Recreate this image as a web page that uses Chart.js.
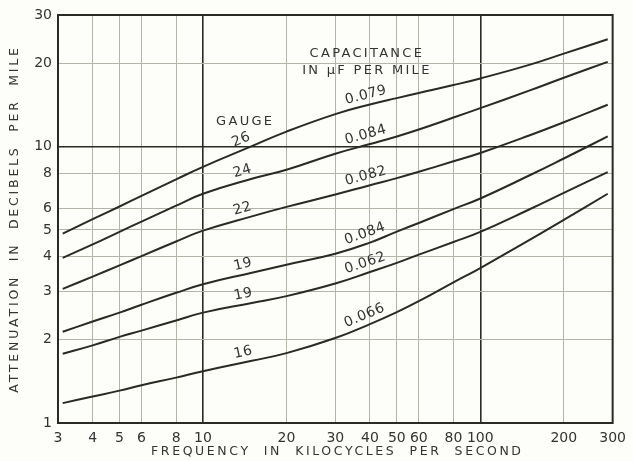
<!DOCTYPE html>
<html>
<head>
<meta charset="utf-8">
<script src="https://cdn.jsdelivr.net/npm/chart.js@4.4.1/dist/chart.umd.min.js"></script>
<style>
  html, body { margin: 0; padding: 0; background: #fdfdf9; }
  canvas { display: block; }
</style>
</head>
<body>
<canvas id="myChart" width="633" height="461"></canvas>
<script>
// frequency in kc (x), attenuation in db per mile (y)
const freq = [3.12, 4, 5, 6, 8, 10, 15, 20, 30, 40, 50, 60, 80, 100, 150, 200, 288];
const gauge26 = [4.85, 5.47, 6.08, 6.64, 7.62, 8.46, 10.05, 11.35, 13.13, 14.23, 15.0, 15.66, 16.73, 17.68, 19.8, 21.75, 24.5];
const gauge24 = [3.96, 4.43, 4.92, 5.36, 6.12, 6.76, 7.66, 8.26, 9.44, 10.23, 10.9, 11.55, 12.76, 13.8, 15.97, 17.78, 20.3];
const gauge22 = [3.06, 3.39, 3.72, 4.02, 4.54, 4.97, 5.6, 6.06, 6.72, 7.26, 7.7, 8.12, 8.86, 9.5, 10.99, 12.27, 14.2];
const gauge19a = [2.14, 2.33, 2.51, 2.68, 2.96, 3.18, 3.5, 3.74, 4.1, 4.5, 4.93, 5.3, 5.95, 6.5, 7.87, 9.07, 10.9];
const gauge19b = [1.78, 1.91, 2.05, 2.16, 2.35, 2.51, 2.72, 2.88, 3.2, 3.52, 3.8, 4.07, 4.52, 4.92, 5.93, 6.81, 8.1];
const gauge16 = [1.18, 1.247, 1.31, 1.37, 1.46, 1.54, 1.68, 1.79, 2.03, 2.28, 2.52, 2.76, 3.23, 3.64, 4.59, 5.44, 6.76];

const gaugeNames = ['26', '24', '22', '19', '19', '16'];
const capNames = ['0.079', '0.084', '0.082', '0.084', '0.062', '0.066'];

const xTicks = [3, 4, 5, 6, 8, 10, 20, 30, 40, 50, 60, 80, 100, 200, 300];
const yTicks = [1, 2, 3, 4, 5, 6, 8, 10, 20, 30];

const series = [gauge26, gauge24, gauge22, gauge19a, gauge19b, gauge16];

const ink = '#2a2a25';
const gridInk = '#b4b4ab';
const face = '"DejaVu Sans", sans-serif';

// where the curve labels sit (kc) and the header notes (kc, db)
const gaugeAt = 14.2;
const capAt = 39.5;
const notes = [
  { text: 'GAUGE', x: 14.2, y: 12.3 },
  { text: 'CAPACITANCE', x: 39, y: 21.7 },
  { text: 'IN \u03BCF PER MILE', x: 39, y: 18.8 }
];

// log-log interpolation along one curve
function valueAt(ys, x) {
  for (let i = 0; i < freq.length - 1; i++) {
    if (x >= freq[i] && x <= freq[i + 1]) {
      const t = Math.log(x / freq[i]) / Math.log(freq[i + 1] / freq[i]);
      return Math.exp(Math.log(ys[i]) + t * Math.log(ys[i + 1] / ys[i]));
    }
  }
  return ys[ys.length - 1];
}

function labelOnCurve(ctx, sx, sy, ys, x, text, lift) {
  const px = sx.getPixelForValue(x);
  const py = sy.getPixelForValue(valueAt(ys, x));
  const p1x = sx.getPixelForValue(x / 1.15), p1y = sy.getPixelForValue(valueAt(ys, x / 1.15));
  const p2x = sx.getPixelForValue(x * 1.15), p2y = sy.getPixelForValue(valueAt(ys, x * 1.15));
  const ang = Math.atan2(p2y - p1y, p2x - p1x);
  ctx.save();
  ctx.translate(px, py);
  ctx.rotate(ang);
  ctx.fillText(text, 0, -lift);
  ctx.restore();
}

const decorations = {
  id: 'decorations',
  beforeDraw(chart) {
    const c = chart.ctx;
    c.save();
    c.fillStyle = '#fdfdf9';
    c.fillRect(0, 0, chart.width, chart.height);
    c.restore();
  },
  afterDatasetsDraw(chart) {
    const c = chart.ctx;
    const a = chart.chartArea;
    const sx = chart.scales.x, sy = chart.scales.y;
    c.save();
    // frame
    c.strokeStyle = ink;
    c.lineWidth = 2;
    c.strokeRect(a.left, a.top, a.right - a.left, a.bottom - a.top);

    c.fillStyle = '#333';
    c.textAlign = 'center';
    c.textBaseline = 'middle';
    c.font = '14px ' + face;
    c.letterSpacing = '0.5px';
    series.forEach((ys, i) => {
      labelOnCurve(c, sx, sy, ys, gaugeAt, gaugeNames[i], 10);
      labelOnCurve(c, sx, sy, ys, capAt, capNames[i], 10);
    });

    c.font = '13px ' + face;
    c.letterSpacing = '2.3px';
    notes.forEach(n => {
      c.fillText(n.text, sx.getPixelForValue(n.x), sy.getPixelForValue(n.y));
    });

    // axis titles
    c.font = '12.5px ' + face;
    c.letterSpacing = '2.6px';
    c.fillText('FREQUENCY  IN  KILOCYCLES  PER  SECOND', (a.left + a.right) / 2 + 2, 452);
    c.translate(15, (a.top + a.bottom) / 2);
    c.rotate(-Math.PI / 2);
    c.letterSpacing = '2.8px';
    c.fillText('ATTENUATION  IN  DECIBELS  PER  MILE', 0, 0);
    c.restore();
  }
};

const majorX = [10, 100];
const majorY = [10];

new Chart('myChart', {
  type: 'line',
  data: {
    labels: freq,
    datasets: series.map((ys, i) => ({
      label: gaugeNames[i] + ' ga, ' + capNames[i],
      data: freq.map((f, j) => ({ x: f, y: ys[j] })),
      borderColor: ink,
      borderWidth: 2,
      pointRadius: 0,
      tension: 0.45,
      fill: false
    }))
  },
  options: {
    responsive: false,
    animation: false,
    layout: { padding: { top: 15, right: 15, left: 0, bottom: 0 } },
    plugins: { legend: { display: false }, tooltip: { enabled: false } },
    scales: {
      x: {
        type: 'logarithmic',
        min: 3,
        max: 300,
        afterBuildTicks: s => { s.ticks = xTicks.map(v => ({ value: v })); },
        afterFit: s => { s.height = 38; },
        grid: {
          drawTicks: false,
          color: c => majorX.includes(c.tick && c.tick.value) ? ink : gridInk,
          lineWidth: c => majorX.includes(c.tick && c.tick.value) ? 1.6 : 1
        },
        border: { color: ink, width: 2 },
        ticks: {
          autoSkip: false,
          maxRotation: 0,
          padding: 7,
          color: '#333',
          font: { family: face, size: 14 },
          callback: v => String(v)
        }
      },
      y: {
        type: 'logarithmic',
        min: 1,
        max: 30,
        afterBuildTicks: s => { s.ticks = yTicks.map(v => ({ value: v })); },
        afterFit: s => { s.width = 58; },
        grid: {
          drawTicks: false,
          color: c => majorY.includes(c.tick && c.tick.value) ? ink : gridInk,
          lineWidth: c => majorY.includes(c.tick && c.tick.value) ? 1.6 : 1
        },
        border: { color: ink, width: 2 },
        ticks: {
          autoSkip: false,
          padding: 6,
          color: '#333',
          font: { family: face, size: 14 },
          callback: v => String(v)
        }
      }
    }
  },
  plugins: [decorations]
});
</script>
</body>
</html>
